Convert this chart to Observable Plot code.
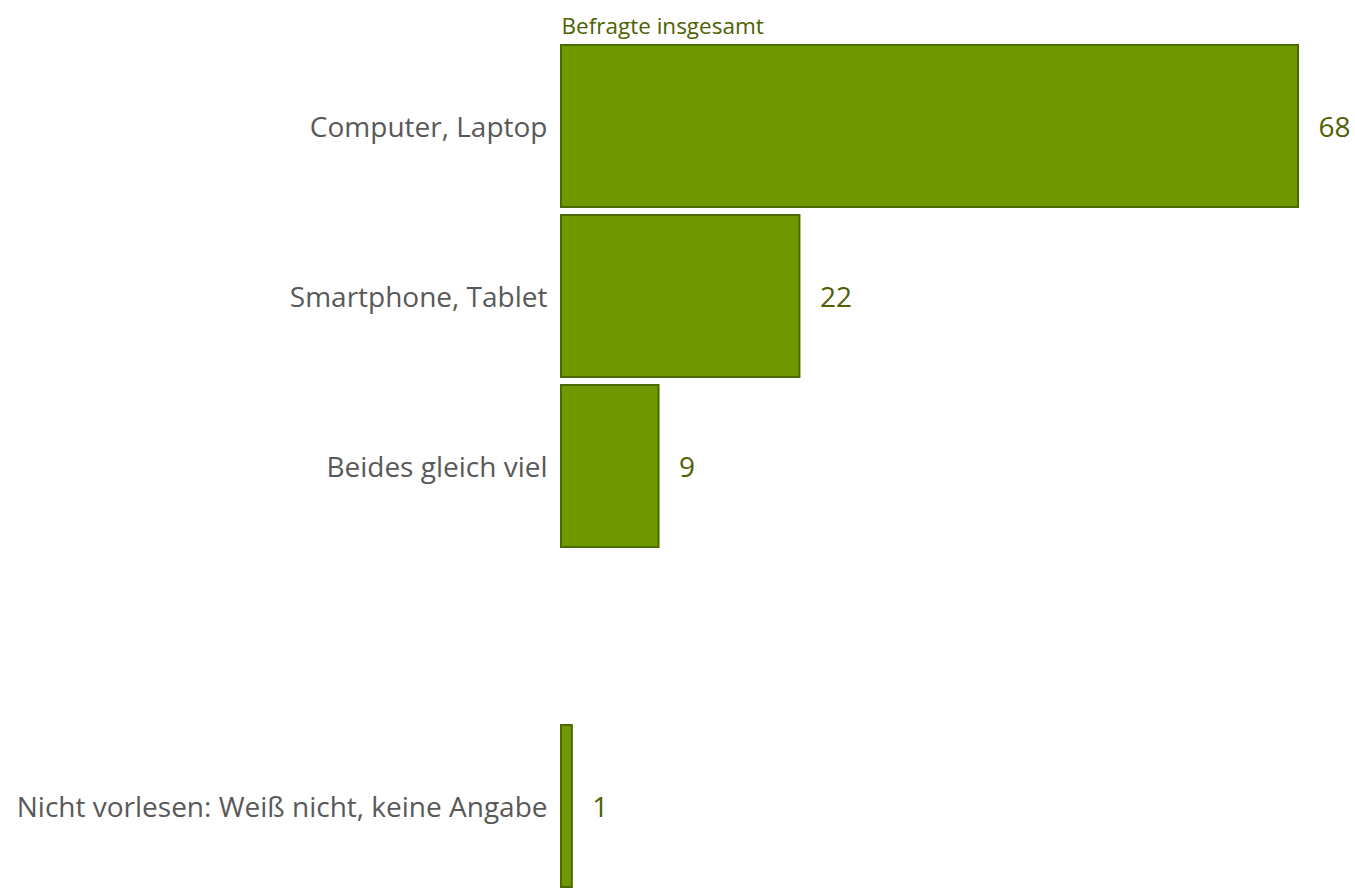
<!DOCTYPE html>
<html>
<head>
<meta charset="utf-8">
<script src="https://cdn.jsdelivr.net/npm/d3@7"></script>
<script src="https://cdn.jsdelivr.net/npm/@observablehq/plot@0.6"></script>
<style>
  html, body { margin: 0; padding: 0; background: #fff; }
  #chart { width: 1355px; height: 888px; }
</style>
</head>
<body>
<div id="chart"></div>
<script>
const categories = [
  "Computer, Laptop",
  "Smartphone, Tablet",
  "Beides gleich viel",
  "Nicht vorlesen: Weiß nicht, keine Angabe"
];
const values = [68, 22, 9, 1];
const seriesName = "Befragte insgesamt";
const spacer = " ";
const yDomain = [categories[0], categories[1], categories[2], spacer, categories[3]];

const data = categories.map((c, i) => ({category: c, value: values[i]}));

const fill = "#709900";
const stroke = "#4d6a00";
const valueColor = "#4d6200";
const labelColor = "#595959";
const font = "'Open Sans', 'Noto Sans', sans-serif";

const chart = Plot.plot({
  width: 1355,
  height: 888,
  marginLeft: 561,
  marginRight: 57,
  marginTop: 44,
  marginBottom: 0,
  style: {fontFamily: font, background: "#fff", overflow: "visible"},
  x: {domain: [0, 68], axis: null},
  y: {domain: yDomain, paddingInner: 0.05, paddingOuter: 0, label: null},
  marks: [
    Plot.barX(data, {x: "value", y: "category", fill: fill, stroke: stroke, strokeWidth: 2}),
    Plot.text(data, {x: "value", y: "category", text: d => String(d.value), textAnchor: "start", dx: 20, dy: 2, fill: valueColor, fontSize: 28}),
    Plot.axisY({tickSize: 0, tickPadding: 14, fontSize: 28, color: labelColor, dy: 2, tickFormat: d => d === spacer ? "" : d}),
    Plot.text([seriesName], {frameAnchor: "top-left", dy: -11, textAnchor: "start", lineAnchor: "bottom", fill: valueColor, fontSize: 22.5})
  ]
});
document.getElementById("chart").appendChild(chart);
</script>
</body>
</html>
